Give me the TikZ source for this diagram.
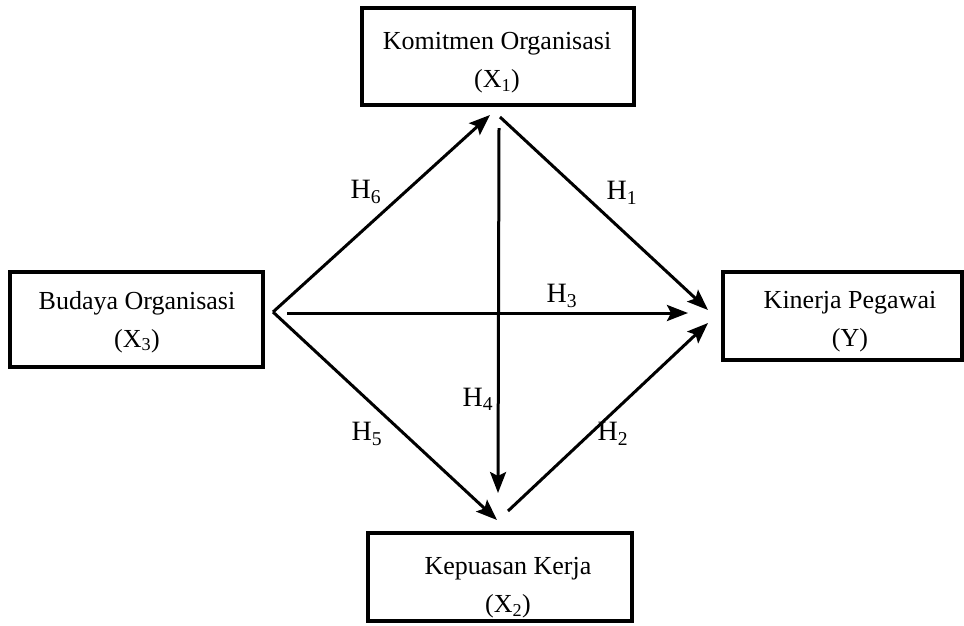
\documentclass[tikz,border=0pt]{standalone}
\usepackage{fontspec}
\setmainfont{Liberation Serif}
\usetikzlibrary{arrows.meta}

\tikzset{
  varbox/.style={draw, line width=3.5pt, rectangle, inner sep=0pt},
  boxtext/.style={align=center, inner sep=0pt, font=\fontsize{26}{38}\selectfont},
  hyp/.style={inner sep=0pt, font=\fontsize{28}{30}\selectfont},
  path/.style={line width=3pt, -{Stealth[length=21pt,width=16pt,inset=4pt]}}
}

\begin{document}
\begin{tikzpicture}[x=1pt,y=-1pt]
  \useasboundingbox (0,0) rectangle (964,625);

  % variable boxes
  \node[varbox, minimum width=272pt, minimum height=97pt] (kom) at (498,56.5) {};
  \node[varbox, minimum width=253pt, minimum height=95pt] (bud) at (136.5,319.5) {};
  \node[varbox, minimum width=239pt, minimum height=88pt] (kin) at (842.5,316) {};
  \node[varbox, minimum width=264pt, minimum height=88pt] (kep) at (500,577) {};

  \node[boxtext] (komt) at (497,63)  {Komitmen Organisasi\\(X\textsubscript{1})};
  \node[boxtext] (budt) at (137,322) {Budaya Organisasi\\(X\textsubscript{3})};
  \node[boxtext] (kint) at (850,322) {Kinerja Pegawai\\(Y)};
  \node[boxtext] (kept) at (508,588) {Kepuasan Kerja\\(X\textsubscript{2})};

  % end points of the hypothesis paths
  \coordinate (apex)  at (273,312);
  \coordinate (h3s)   at (287,313);
  \coordinate (h3e)   at (688,313);
  \coordinate (komin) at (490,115);
  \coordinate (komout) at (500,117);
  \coordinate (h4s)   at (499,128);
  \coordinate (h4e)   at (498,493);
  \coordinate (kepin) at (497,520);
  \coordinate (kepout) at (508,511);
  \coordinate (kinup) at (708,310);
  \coordinate (kinlo) at (708,323);

  % hypothesis paths
  \draw[path] (apex) -- (komin);
  \draw[path] (apex) -- (kepin);
  \draw[path] (h3s) -- (h3e);
  \draw[path] (komout) -- (kinup);
  \draw[path] (kepout) -- (kinlo);
  \draw[path] (h4s) -- (h4e);

  % hypothesis labels
  \node[hyp] (l6) at (366,192) {H\textsubscript{6}};
  \node[hyp] (l1) at (622,193) {H\textsubscript{1}};
  \node[hyp] (l3) at (562,296) {H\textsubscript{3}};
  \node[hyp] (l4) at (478,399) {H\textsubscript{4}};
  \node[hyp] (l5) at (367,434) {H\textsubscript{5}};
  \node[hyp] (l2) at (613,434) {H\textsubscript{2}};
\end{tikzpicture}
\end{document}
